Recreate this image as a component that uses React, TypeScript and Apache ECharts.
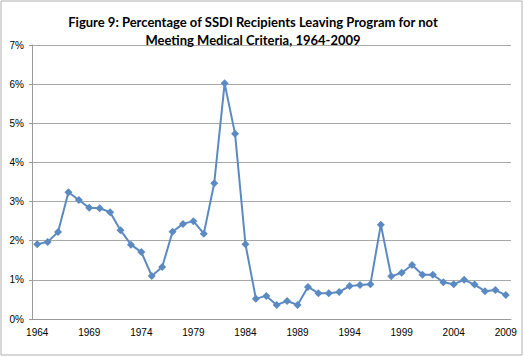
import React, { useEffect, useRef } from "react";
import * as echarts from "echarts";

const years: string[] = [
  "1964","1965","1966","1967","1968","1969","1970","1971","1972","1973",
  "1974","1975","1976","1977","1978","1979","1980","1981","1982","1983",
  "1984","1985","1986","1987","1988","1989","1990","1991","1992","1993",
  "1994","1995","1996","1997","1998","1999","2000","2001","2002","2003",
  "2004","2005","2006","2007","2008","2009",
];

const pctLeaving: number[] = [
  1.91, 1.97, 2.22, 3.24, 3.04, 2.84, 2.83, 2.73, 2.27, 1.9,
  1.71, 1.1, 1.33, 2.23, 2.43, 2.5, 2.18, 3.47, 6.02, 4.73,
  1.91, 0.52, 0.59, 0.36, 0.46, 0.36, 0.82, 0.66, 0.66, 0.69,
  0.84, 0.87, 0.89, 2.41, 1.09, 1.18, 1.38, 1.13, 1.13, 0.94,
  0.89, 1.0, 0.88, 0.71, 0.74, 0.61,
];

const titleLines: string[] = [
  "Figure 9: Percentage of SSDI Recipients Leaving Program for not",
  "Meeting Medical Criteria, 1964-2009",
];

export default function App() {
  const ref = useRef<HTMLDivElement>(null);
  useEffect(() => {
    if (!ref.current) return;
    const chart = echarts.init(ref.current, null, { renderer: "svg" });
    chart.setOption({
      animation: false,
      backgroundColor: "#ffffff",
      title: {
        text: titleLines.join("\n"),
        left: 248,
        top: 8,
        textAlign: "center",
        textStyle: {
          fontFamily: "Lato",
          fontWeight: "bold",
          fontSize: 13,
          lineHeight: 18,
          color: "#000000",
        },
      },
      graphic: [
        {
          type: "rect",
          shape: { x: 1, y: 1, width: 521, height: 354 },
          style: { fill: "none", stroke: "#b0b0b0", lineWidth: 1 },
          silent: true,
        },
      ],
      grid: { left: 32, right: 13, top: 45, bottom: 38, containLabel: false },
      xAxis: {
        type: "category",
        data: years,
        boundaryGap: true,
        axisLine: { show: true, lineStyle: { color: "#9a9a9a", width: 1 } },
        axisTick: { show: false },
        axisLabel: {
          interval: 4,
          color: "#000000",
          fontFamily: "Liberation Sans",
          fontSize: 10,
          margin: 8,
        },
        splitLine: { show: false },
      },
      yAxis: {
        type: "value",
        min: 0,
        max: 7,
        interval: 1,
        axisLine: { show: true, lineStyle: { color: "#9a9a9a", width: 1 } },
        axisTick: { show: true, length: 3, lineStyle: { color: "#9a9a9a" } },
        axisLabel: {
          formatter: (v: number) => `${v}%`,
          color: "#000000",
          fontFamily: "Liberation Sans",
          fontSize: 10,
          margin: 8,
        },
        splitLine: { show: true, lineStyle: { color: "#a8a8a8", width: 1 } },
      },
      series: [
        {
          type: "line",
          data: pctLeaving,
          symbol: "diamond",
          symbolSize: 8,
          showSymbol: true,
          showAllSymbol: true,
          itemStyle: { color: "#5b8ac2" },
          lineStyle: { color: "#5b8ac2", width: 2 },
        },
      ],
    });
    return () => chart.dispose();
  }, []);
  return (
    <div
      ref={ref}
      style={{ position: "fixed", left: 0, top: 0, width: 524, height: 357 }}
    />
  );
}
